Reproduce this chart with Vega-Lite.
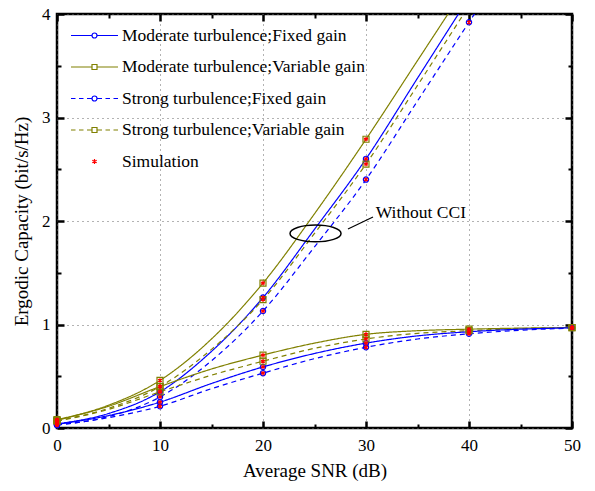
{
  "$schema": "https://vega.github.io/schema/vega-lite/v6.json",
  "width": 515,
  "height": 414,
  "autosize": "none",
  "padding": {"left": 57, "top": 14, "right": 23, "bottom": 63},
  "background": "white",
  "config": {
    "view": {"stroke": "black", "strokeWidth": 2.5},
    "font": "Liberation Serif",
    "axis": {"domain": false, "labelFont": "Liberation Serif", "titleFont": "Liberation Serif", "labelColor": "black", "titleColor": "black", "titleFontWeight": "normal"},
    "legend": {"labelFont": "Liberation Serif"}
  },
  "datasets": {
    "curves": [
      {"s": "Moderate turbulence;Variable gain", "c": "no", "x": 0, "y": 0.08},
      {"s": "Moderate turbulence;Variable gain", "c": "no", "x": 5, "y": 0.22},
      {"s": "Moderate turbulence;Variable gain", "c": "no", "x": 10, "y": 0.46},
      {"s": "Moderate turbulence;Variable gain", "c": "no", "x": 15, "y": 0.86},
      {"s": "Moderate turbulence;Variable gain", "c": "no", "x": 20, "y": 1.40},
      {"s": "Moderate turbulence;Variable gain", "c": "no", "x": 25, "y": 2.07},
      {"s": "Moderate turbulence;Variable gain", "c": "no", "x": 30, "y": 2.79},
      {"s": "Moderate turbulence;Variable gain", "c": "no", "x": 35, "y": 3.55},
      {"s": "Moderate turbulence;Variable gain", "c": "no", "x": 40, "y": 4.31},
      {"s": "Moderate turbulence;Fixed gain", "c": "no", "x": 0, "y": 0.04},
      {"s": "Moderate turbulence;Fixed gain", "c": "no", "x": 5, "y": 0.14},
      {"s": "Moderate turbulence;Fixed gain", "c": "no", "x": 10, "y": 0.35},
      {"s": "Moderate turbulence;Fixed gain", "c": "no", "x": 15, "y": 0.74},
      {"s": "Moderate turbulence;Fixed gain", "c": "no", "x": 20, "y": 1.26},
      {"s": "Moderate turbulence;Fixed gain", "c": "no", "x": 25, "y": 1.92},
      {"s": "Moderate turbulence;Fixed gain", "c": "no", "x": 30, "y": 2.60},
      {"s": "Moderate turbulence;Fixed gain", "c": "no", "x": 35, "y": 3.38},
      {"s": "Moderate turbulence;Fixed gain", "c": "no", "x": 40, "y": 4.16},
      {"s": "Strong turbulence;Variable gain", "c": "no", "x": 0, "y": 0.07},
      {"s": "Strong turbulence;Variable gain", "c": "no", "x": 5, "y": 0.19},
      {"s": "Strong turbulence;Variable gain", "c": "no", "x": 10, "y": 0.40},
      {"s": "Strong turbulence;Variable gain", "c": "no", "x": 15, "y": 0.76},
      {"s": "Strong turbulence;Variable gain", "c": "no", "x": 20, "y": 1.24},
      {"s": "Strong turbulence;Variable gain", "c": "no", "x": 25, "y": 1.88},
      {"s": "Strong turbulence;Variable gain", "c": "no", "x": 30, "y": 2.55},
      {"s": "Strong turbulence;Variable gain", "c": "no", "x": 35, "y": 3.31},
      {"s": "Strong turbulence;Variable gain", "c": "no", "x": 40, "y": 4.08},
      {"s": "Strong turbulence;Fixed gain", "c": "no", "x": 0, "y": 0.03},
      {"s": "Strong turbulence;Fixed gain", "c": "no", "x": 5, "y": 0.11},
      {"s": "Strong turbulence;Fixed gain", "c": "no", "x": 10, "y": 0.30},
      {"s": "Strong turbulence;Fixed gain", "c": "no", "x": 15, "y": 0.65},
      {"s": "Strong turbulence;Fixed gain", "c": "no", "x": 20, "y": 1.13},
      {"s": "Strong turbulence;Fixed gain", "c": "no", "x": 25, "y": 1.75},
      {"s": "Strong turbulence;Fixed gain", "c": "no", "x": 30, "y": 2.40},
      {"s": "Strong turbulence;Fixed gain", "c": "no", "x": 35, "y": 3.16},
      {"s": "Strong turbulence;Fixed gain", "c": "no", "x": 40, "y": 3.92},
      {"s": "Strong turbulence;Fixed gain", "c": "no", "x": 42, "y": 4.22},
      {"s": "Moderate turbulence;Variable gain", "c": "cci", "x": 0, "y": 0.075},
      {"s": "Moderate turbulence;Variable gain", "c": "cci", "x": 5, "y": 0.21},
      {"s": "Moderate turbulence;Variable gain", "c": "cci", "x": 10, "y": 0.40},
      {"s": "Moderate turbulence;Variable gain", "c": "cci", "x": 15, "y": 0.57},
      {"s": "Moderate turbulence;Variable gain", "c": "cci", "x": 20, "y": 0.705},
      {"s": "Moderate turbulence;Variable gain", "c": "cci", "x": 25, "y": 0.82},
      {"s": "Moderate turbulence;Variable gain", "c": "cci", "x": 30, "y": 0.905},
      {"s": "Moderate turbulence;Variable gain", "c": "cci", "x": 35, "y": 0.94},
      {"s": "Moderate turbulence;Variable gain", "c": "cci", "x": 40, "y": 0.955},
      {"s": "Moderate turbulence;Variable gain", "c": "cci", "x": 45, "y": 0.965},
      {"s": "Moderate turbulence;Variable gain", "c": "cci", "x": 50, "y": 0.97},
      {"s": "Strong turbulence;Variable gain", "c": "cci", "x": 0, "y": 0.065},
      {"s": "Strong turbulence;Variable gain", "c": "cci", "x": 5, "y": 0.18},
      {"s": "Strong turbulence;Variable gain", "c": "cci", "x": 10, "y": 0.35},
      {"s": "Strong turbulence;Variable gain", "c": "cci", "x": 15, "y": 0.51},
      {"s": "Strong turbulence;Variable gain", "c": "cci", "x": 20, "y": 0.645},
      {"s": "Strong turbulence;Variable gain", "c": "cci", "x": 25, "y": 0.77},
      {"s": "Strong turbulence;Variable gain", "c": "cci", "x": 30, "y": 0.86},
      {"s": "Strong turbulence;Variable gain", "c": "cci", "x": 35, "y": 0.915},
      {"s": "Strong turbulence;Variable gain", "c": "cci", "x": 40, "y": 0.94},
      {"s": "Strong turbulence;Variable gain", "c": "cci", "x": 45, "y": 0.96},
      {"s": "Strong turbulence;Variable gain", "c": "cci", "x": 50, "y": 0.97},
      {"s": "Moderate turbulence;Fixed gain", "c": "cci", "x": 0, "y": 0.035},
      {"s": "Moderate turbulence;Fixed gain", "c": "cci", "x": 5, "y": 0.12},
      {"s": "Moderate turbulence;Fixed gain", "c": "cci", "x": 10, "y": 0.25},
      {"s": "Moderate turbulence;Fixed gain", "c": "cci", "x": 15, "y": 0.43},
      {"s": "Moderate turbulence;Fixed gain", "c": "cci", "x": 20, "y": 0.59},
      {"s": "Moderate turbulence;Fixed gain", "c": "cci", "x": 25, "y": 0.72},
      {"s": "Moderate turbulence;Fixed gain", "c": "cci", "x": 30, "y": 0.82},
      {"s": "Moderate turbulence;Fixed gain", "c": "cci", "x": 35, "y": 0.89},
      {"s": "Moderate turbulence;Fixed gain", "c": "cci", "x": 40, "y": 0.93},
      {"s": "Moderate turbulence;Fixed gain", "c": "cci", "x": 45, "y": 0.955},
      {"s": "Moderate turbulence;Fixed gain", "c": "cci", "x": 50, "y": 0.968},
      {"s": "Strong turbulence;Fixed gain", "c": "cci", "x": 0, "y": 0.028},
      {"s": "Strong turbulence;Fixed gain", "c": "cci", "x": 5, "y": 0.10},
      {"s": "Strong turbulence;Fixed gain", "c": "cci", "x": 10, "y": 0.21},
      {"s": "Strong turbulence;Fixed gain", "c": "cci", "x": 15, "y": 0.38},
      {"s": "Strong turbulence;Fixed gain", "c": "cci", "x": 20, "y": 0.53},
      {"s": "Strong turbulence;Fixed gain", "c": "cci", "x": 25, "y": 0.67},
      {"s": "Strong turbulence;Fixed gain", "c": "cci", "x": 30, "y": 0.78},
      {"s": "Strong turbulence;Fixed gain", "c": "cci", "x": 35, "y": 0.86},
      {"s": "Strong turbulence;Fixed gain", "c": "cci", "x": 40, "y": 0.91},
      {"s": "Strong turbulence;Fixed gain", "c": "cci", "x": 45, "y": 0.945},
      {"s": "Strong turbulence;Fixed gain", "c": "cci", "x": 50, "y": 0.965}
    ],
    "legendRows": [
      {"s": "Moderate turbulence;Fixed gain", "x": -20, "y": -1},
      {"s": "Moderate turbulence;Variable gain", "x": -20, "y": -1},
      {"s": "Strong turbulence;Fixed gain", "x": -20, "y": -1},
      {"s": "Strong turbulence;Variable gain", "x": -20, "y": -1},
      {"s": "Simulation", "x": -20, "y": -1}
    ]
  },
  "resolve": {"axis": {"x": "independent", "y": "independent"}},
  "layer": [
    {
      "data": {"name": "curves"},
      "mark": {"type": "line", "strokeWidth": 1.2, "interpolate": "monotone", "clip": true},
      "encoding": {
        "x": {"field": "x", "type": "quantitative", "scale": {"domain": [0, 50], "nice": false, "zero": false},
          "title": "Average SNR (dB)",
          "axis": {"values": [0, 10, 20, 30, 40, 50], "format": "d", "labelFont": "Liberation Serif", "titleFont": "Liberation Serif",
            "ticks": false, "grid": true, "gridColor": "#666", "gridDash": [1, 4], "gridWidth": 1,
            "labelFontSize": 17, "labelPadding": 9, "titleFontSize": 19, "titlePadding": 8, "labelFlush": false}},
        "y": {"field": "y", "type": "quantitative", "scale": {"domain": [0, 4], "nice": false, "zero": false},
          "title": "Ergodic Capacity (bit/s/Hz)",
          "axis": {"values": [0, 1, 2, 3, 4], "format": "d", "labelFont": "Liberation Serif", "titleFont": "Liberation Serif",
            "ticks": false, "grid": true, "gridColor": "#666", "gridDash": [1, 4], "gridWidth": 1,
            "labelFontSize": 17, "labelPadding": 7, "titleFontSize": 19, "titlePadding": 10, "labelFlush": false}},
        "stroke": {"field": "s", "type": "nominal", "legend": null,
          "scale": {"domain": ["Moderate turbulence;Fixed gain", "Moderate turbulence;Variable gain", "Strong turbulence;Fixed gain", "Strong turbulence;Variable gain"],
            "range": ["#0000ff", "#808000", "#0000ff", "#808000"]}},
        "strokeDash": {"field": "s", "type": "nominal", "legend": null,
          "scale": {"domain": ["Moderate turbulence;Fixed gain", "Moderate turbulence;Variable gain", "Strong turbulence;Fixed gain", "Strong turbulence;Variable gain"],
            "range": [[1, 0], [1, 0], [5, 4], [5, 4]]}},
        "detail": {"field": "c"}
      }
    },
    {
      "data": {"name": "curves"},
      "transform": [
        {"filter": {"field": "s", "oneOf": ["Moderate turbulence;Fixed gain", "Strong turbulence;Fixed gain"]}},
        {"filter": "datum.x % 10 === 0 && datum.y <= 4"}
      ],
      "mark": {"type": "point", "shape": "circle", "filled": false, "size": 28, "strokeWidth": 1.2, "opacity": 1},
      "encoding": {
        "x": {"field": "x", "type": "quantitative", "axis": {"orient": "bottom", "values": [0, 10, 20, 30, 40, 50], "labels": false, "title": null, "grid": true, "gridColor": "black", "gridWidth": 2.5, "gridDash": [7, 400, 7, 1000], "ticks": false}},
        "y": {"field": "y", "type": "quantitative", "axis": {"orient": "left", "values": [0, 1, 2, 3, 4], "labels": false, "title": null, "grid": true, "gridColor": "black", "gridWidth": 2.5, "gridDash": [7, 501, 7, 1000], "ticks": false}},
        "stroke": {"field": "s", "type": "nominal", "legend": null}
      }
    },
    {
      "data": {"name": "curves"},
      "transform": [
        {"filter": {"field": "s", "oneOf": ["Moderate turbulence;Variable gain", "Strong turbulence;Variable gain"]}},
        {"filter": "datum.x % 10 === 0 && datum.y <= 4"}
      ],
      "mark": {"type": "point", "shape": "square", "filled": false, "size": 36, "strokeWidth": 1.2, "opacity": 1},
      "encoding": {
        "x": {"field": "x", "type": "quantitative", "axis": {"orient": "bottom", "values": [5, 15, 25, 35, 45], "labels": false, "title": null, "grid": true, "gridColor": "black", "gridWidth": 2, "gridDash": [4, 406, 4, 1000], "ticks": false}},
        "y": {"field": "y", "type": "quantitative", "axis": {"orient": "left", "values": [0.5, 1.5, 2.5, 3.5], "labels": false, "title": null, "grid": true, "gridColor": "black", "gridWidth": 2, "gridDash": [4, 507, 4, 1000], "ticks": false}},
        "stroke": {"field": "s", "type": "nominal", "legend": null}
      }
    },
    {
      "data": {"name": "curves"},
      "transform": [{"filter": "datum.x % 10 === 0 && datum.y <= 4"}],
      "mark": {"type": "point", "shape": "M 0 -1 L 0 1 M -0.87 -0.5 L 0.87 0.5 M -0.87 0.5 L 0.87 -0.5", "filled": false, "size": 20, "strokeWidth": 1.2, "color": "#ff0000", "opacity": 1},
      "encoding": {
        "x": {"field": "x", "type": "quantitative", "axis": null},
        "y": {"field": "y", "type": "quantitative", "axis": null}
      }
    },
    {
      "data": {"values": [{"x": 25.1, "y": 1.88}]},
      "mark": {"type": "point", "shape": "M -1 0 A 1 0.33 0 1 0 1 0 A 1 0.33 0 1 0 -1 0 Z", "filled": false, "size": 2601, "strokeWidth": 1.5, "color": "black", "opacity": 1},
      "encoding": {
        "x": {"field": "x", "type": "quantitative", "axis": null},
        "y": {"field": "y", "type": "quantitative", "axis": null}
      }
    },
    {
      "data": {"values": [{"x": 28.25, "y": 1.923, "x2": 30.68, "y2": 2.039}]},
      "mark": {"type": "rule", "color": "black", "strokeWidth": 1.2},
      "encoding": {
        "x": {"field": "x", "type": "quantitative", "axis": null},
        "y": {"field": "y", "type": "quantitative", "axis": null},
        "x2": {"field": "x2"},
        "y2": {"field": "y2"}
      }
    },
    {
      "data": {"values": [{"x": 30.95, "y": 2.077, "t": "Without CCI"}]},
      "mark": {"type": "text", "align": "left", "baseline": "middle", "font": "Liberation Serif", "fontSize": 17.5, "color": "black"},
      "encoding": {
        "x": {"field": "x", "type": "quantitative", "axis": null},
        "y": {"field": "y", "type": "quantitative", "axis": null},
        "text": {"field": "t"}
      }
    },
    {
      "data": {"name": "legendRows"},
      "mark": {"type": "point", "filled": false, "size": 30, "strokeWidth": 1.2, "clip": true, "opacity": 1},
      "encoding": {
        "x": {"field": "x", "type": "quantitative", "axis": null},
        "y": {"field": "y", "type": "quantitative", "axis": null},
        "color": {"field": "s", "type": "nominal",
          "scale": {"domain": ["Moderate turbulence;Fixed gain", "Moderate turbulence;Variable gain", "Strong turbulence;Fixed gain", "Strong turbulence;Variable gain", "Simulation"],
            "range": ["#0000ff", "#808000", "#0000ff", "#808000", "#ff0000"]},
          "legend": {"orient": "none", "legendX": 13, "legendY": 10.5, "title": null, "padding": 0, "labelFont": "Liberation Serif", "labelFontSize": 17.5, "labelColor": "black", "labelLimit": 400, "symbolSize": 400, "symbolStrokeWidth": 1.2, "symbolOpacity": 1, "rowPadding": 11.5, "labelOffset": 30, "symbolFillColor": "transparent"}},
        "shape": {"field": "s", "type": "nominal",
          "scale": {"domain": ["Moderate turbulence;Fixed gain", "Moderate turbulence;Variable gain", "Strong turbulence;Fixed gain", "Strong turbulence;Variable gain", "Simulation"],
            "range": [
              "M -1 0 L 1.1 0 M 1.6 0 L 3.7 0 M 1.1 0 A 0.25 0.25 0 1 1 1.6 0 A 0.25 0.25 0 1 1 1.1 0",
              "M -1 0 L 1.1 0 M 1.6 0 L 3.7 0 M 1.1 -0.25 L 1.6 -0.25 L 1.6 0.25 L 1.1 0.25 Z",
              "M -1 0 L -0.55 0 M -0.2 0 L 0.25 0 M 0.6 0 L 1.1 0 M 1.6 0 L 2.1 0 M 2.45 0 L 2.9 0 M 3.25 0 L 3.7 0 M 1.1 0 A 0.25 0.25 0 1 1 1.6 0 A 0.25 0.25 0 1 1 1.1 0",
              "M -1 0 L -0.55 0 M -0.2 0 L 0.25 0 M 0.6 0 L 1.1 0 M 1.6 0 L 2.1 0 M 2.45 0 L 2.9 0 M 3.25 0 L 3.7 0 M 1.1 -0.25 L 1.6 -0.25 L 1.6 0.25 L 1.1 0.25 Z",
              "M 1.35 -0.25 L 1.35 0.25 M 1.13 -0.125 L 1.57 0.125 M 1.13 0.125 L 1.57 -0.125"
            ]},
          "legend": {"orient": "none", "legendX": 13, "legendY": 10.5, "title": null, "padding": 0, "labelFont": "Liberation Serif", "labelFontSize": 17.5, "labelColor": "black", "labelLimit": 400, "symbolSize": 400, "symbolStrokeWidth": 1.2, "symbolOpacity": 1, "rowPadding": 11.5, "labelOffset": 30, "symbolFillColor": "transparent"}}
      }
    }
  ]
}
